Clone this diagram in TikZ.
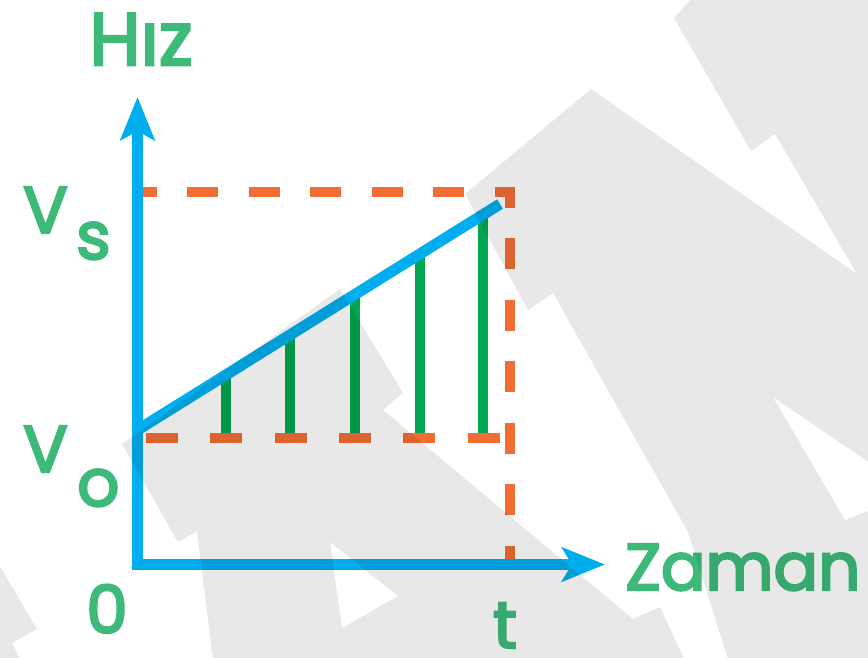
\documentclass[tikz,border=0pt]{standalone}
\usepackage{fontspec}
\setmainfont{Poppins}
\newfontfamily\lblfont{Poppins}[FakeBold=3.5]
\usetikzlibrary{arrows.meta}
\definecolor{axisblue}{RGB}{0,174,239}
\definecolor{dashorange}{RGB}{242,109,51}
\definecolor{bargreen}{RGB}{0,166,81}
\definecolor{txtgreen}{RGB}{61,186,122}
\tikzset{
  lbl/.style={text=txtgreen, font=\lblfont\fontsize{66}{70}\selectfont, inner sep=0pt},
  biglbl/.style={text=txtgreen, font=\lblfont\fontsize{74}{78}\selectfont, inner sep=0pt},
  axisline/.style={draw=axisblue, line width=10.5pt, line join=miter},
  guide/.style={draw=dashorange, line width=10pt, line cap=butt},
  bar/.style={draw=bargreen, line width=10pt},
  ramp/.style={draw=axisblue, line width=11pt, line cap=butt},
  shade/.style={fill=black, fill opacity=0.09, draw=none}
}
\begin{document}
\begin{tikzpicture}[x=1pt,y=-1pt]
\useasboundingbox (0,0) rectangle (868,657);
\fill[white] (0,0) rectangle (868,657);

% key points
\coordinate (origin) at (137.5,564.5);
\coordinate (ytip) at (137.5,97);
\coordinate (xtip) at (605,564.5);
\coordinate (rampA) at (137.5,430);
\coordinate (rampB) at (500,204);
\coordinate (topL) at (142,192);
\coordinate (corner) at (510,192);
\coordinate (cornerB) at (510,562);
\coordinate (lowL) at (145.7,438);
\coordinate (lowR) at (501,438);

% green bars
\coordinate (g1b) at (226,438); \coordinate (g1t) at (226,374.8);
\coordinate (g2b) at (290,438); \coordinate (g2t) at (290,334.9);
\coordinate (g3b) at (355,438); \coordinate (g3t) at (355,294.4);
\coordinate (g4b) at (420,438); \coordinate (g4t) at (420,253.9);
\coordinate (g5b) at (483,438); \coordinate (g5t) at (483,214.6);
\foreach \i in {1,...,5} { \draw[bar] (g\i b) -- (g\i t); }

% orange dashed guides
\draw[guide, dash pattern=on 31pt off 30.5pt, dash phase=16.5pt] (topL) -- (corner) -- (cornerB);
\draw[guide, dash pattern=on 32pt off 32.4pt] (lowL) -- (lowR);

% ramp
\draw[ramp] (rampA) -- (rampB);

% axes
\draw[axisline, arrows={Stealth[length=43pt, width=34pt, inset=9pt]-Stealth[length=43pt, width=34pt, inset=10pt]}] (ytip) -- (origin) -- (xtip);

% labels
\node[biglbl, anchor=base] (hiz) at (141,65) {Hız};
\node[lbl, anchor=base west] (zaman) at (625,590) {Zaman};
\node[lbl, anchor=base west] (vs) at (23,233) {V};
\node[lbl, anchor=base west] (vss) at (76,259) {s};
\node[lbl, anchor=base west] (vo) at (23,472) {V};
\node[lbl, anchor=base west] (voo) at (77,506) {o};
\node[lbl, anchor=base] (zero) at (107,633) {0};
\node[lbl, anchor=base] (tlbl) at (505,648) {t};

% watermark overlay
\path[shade] (674,18) -- (692,-2) -- (870,-2) -- (870,463) -- (773,397) -- (845,520) -- (870,510) -- (870,659) -- (728,659) -- (688,532) -- (553,293) -- (528,310) -- (465,194) -- (591,89) -- (857,274) -- (775,134) -- (751,151) -- cycle;
\path[shade, even odd rule] (122,444) -- (340,289) -- (403,393) -- (383,410) -- (633,619) -- (660,607) -- (684,659) -- (213,659) -- (197,531) -- (178,542) -- cycle
  (330,542) -- (342,628) -- (398,596) -- cycle;
\path[shade] (-2,563) -- (37,629) -- (12,643) -- (20,659) -- (-2,659) -- cycle;
\end{tikzpicture}
\end{document}
